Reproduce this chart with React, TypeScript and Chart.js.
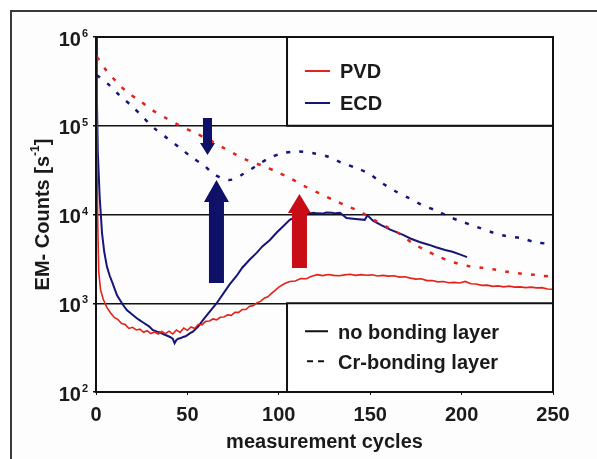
import React, { useEffect, useRef } from 'react';
import { Chart, registerables } from 'chart.js';

Chart.register(...registerables);

// ---------- data ----------
const xTicks = [0, 50, 100, 150, 200, 250];
const yTicks = [100, 1000, 10000, 100000, 1000000];
const yTickBase = '10';

// PVD, Cr-bonding layer (dashed red)
const pvdCrX = [0.5, 5, 11, 17, 24, 30.6, 38, 45, 53, 61, 69, 76, 83, 91, 99, 107, 114, 122, 130, 138, 145.5, 152, 160, 167, 173, 180, 188, 196, 203.5, 211, 218, 225, 232, 240, 248];
const pvdCrY = [596000, 437000, 316000, 240000, 190500, 151000, 123000, 102300, 85100, 70800, 57500, 47900, 40700, 35500, 30200, 25100, 20900, 17400, 14500, 12300, 10500, 8710, 7080, 5890, 4790, 3980, 3310, 2880, 2630, 2510, 2400, 2260, 2160, 2090, 2000];

// ECD, Cr-bonding layer (dashed navy)
const ecdCrX = [0.5, 7.7, 13, 19.7, 26, 32, 39, 46, 52, 58.5, 65, 69, 73, 77, 80, 84, 88.6, 95, 102, 110.5, 119, 127, 134.6, 143, 150, 156.5, 163.6, 170.7, 178, 186.5, 193.7, 200.8, 208.4, 216.6, 223.7, 232, 240, 247];
const ecdCrY = [371500, 281800, 218800, 166000, 123000, 93300, 72400, 56200, 44700, 36300, 28200, 25700, 24500, 25700, 28200, 31600, 36300, 43600, 49000, 51300, 49000, 44700, 38000, 33100, 28200, 22600, 18400, 15500, 12900, 11000, 9330, 8220, 7240, 6310, 5750, 5430, 4900, 4680];

// PVD, no bonding layer (solid red)
const pvdNoX = [0, 0.5, 1, 1.5, 2.5, 4, 6, 8, 10, 12, 14, 16, 18, 20, 22, 24, 26, 28, 30, 32, 34, 36, 38, 40, 42, 44, 46, 48, 50, 52, 54, 56, 58, 60, 62, 64, 66, 68, 70, 72, 74, 76, 78, 80, 82, 84, 86, 88, 90, 92, 94, 96, 98, 100, 103, 106, 109, 112, 115, 118, 121, 124, 127, 130, 133, 136, 139, 142, 145, 148, 151, 154, 157, 160, 163, 166, 169, 172, 175, 178, 181, 184, 187, 190, 193, 196, 199, 202, 205, 208, 211, 214, 217, 220, 223, 226, 229, 232, 235, 238, 241, 244, 247, 250];
const pvdNoY = [631000, 39800, 7080, 2240, 1410, 1100, 891, 776, 692, 655, 590, 575, 520, 535, 500, 510, 470, 490, 455, 475, 450, 480, 455, 485, 450, 500, 470, 525, 495, 540, 520, 580, 570, 625, 630, 665, 650, 695, 700, 740, 730, 790, 790, 850, 850, 925, 940, 1010, 1050, 1140, 1180, 1290, 1400, 1520, 1660, 1760, 1780, 1900, 1890, 2010, 2100, 2050, 2110, 2060, 2040, 2090, 2120, 2060, 2100, 2070, 2090, 2030, 2060, 2020, 2040, 1970, 1990, 1920, 1870, 1890, 1800, 1800, 1740, 1760, 1700, 1720, 1690, 1760, 1660, 1650, 1590, 1600, 1550, 1570, 1530, 1560, 1520, 1530, 1500, 1520, 1490, 1500, 1450, 1440];

// ECD, no bonding layer (solid navy)
const ecdNoX = [0, 0.5, 1, 2, 3.3, 4.5, 6, 7.5, 9, 11.5, 14.8, 17, 20, 23, 26, 29, 31, 33.4, 35, 37, 39, 40.5, 42, 43, 44, 45, 46.5, 47.6, 49, 50, 51.5, 53, 56, 58.5, 62, 66, 70, 73, 77, 80, 84, 88, 91, 95, 99, 102, 106, 110, 113, 115, 117, 119, 121, 124, 126, 129, 131, 133.5, 137, 142, 147, 148.5, 151.5, 156, 161, 168, 172, 177, 182, 186, 191, 195, 199, 203];
const ecdNoY = [1000000, 200000, 50000, 15800, 6170, 3800, 2570, 2040, 1700, 1230, 955, 832, 741, 661, 603, 550, 500, 479, 470, 447, 430, 417, 398, 355, 385, 398, 405, 417, 425, 437, 460, 479, 550, 646, 794, 1000, 1318, 1622, 2042, 2512, 3090, 3715, 4365, 5129, 6310, 7244, 8710, 9550, 9900, 10000, 10300, 10470, 10300, 10230, 10500, 10470, 10300, 10470, 9120, 8910, 8710, 9770, 8510, 7590, 6760, 5890, 5370, 4900, 4570, 4270, 3980, 3800, 3550, 3310];

// arrows: x (cycles), tail value, tip value
const arrowX = [61, 65.9, 111.3];
const arrowTail = [122000, 1690, 2500];
const arrowTip = [46800, 24500, 17000];

const seriesLabels = ['PVD', 'ECD'];
const layerLabels = ['no bonding layer', 'Cr-bonding layer'];
const yTitleParts = ['EM- Counts [s', '-1', ']'];
const xTitle = 'measurement cycles';

// legend boxes (data coordinates): left edge in cycles
const legendBoxLeft = 104.5;

// ---------- styles ----------
const RED = '#e3221b';
const NAVY = '#15157a';
const RED_ARROW = '#c90d16';
const NAVY_ARROW = '#0f1068';
const FONT = '"Liberation Sans", Arial, sans-serif';
const TEXT = '#1a1a1a';
const BIG = `bold 20px ${FONT}`;
const SMALL = `bold 11px ${FONT}`;

function pts(xs: number[], ys: number[]) {
  return xs.map((x, i) => ({ x, y: ys[i] }));
}

function drawArrow(ctx: CanvasRenderingContext2D, cx: number, yTail: number, yTip: number, shaftW: number, headW: number, headLen: number, color: string) {
  const dir = yTip < yTail ? -1 : 1;
  const yBase = yTip - dir * headLen;
  ctx.beginPath();
  ctx.moveTo(cx - shaftW / 2, yTail);
  ctx.lineTo(cx - shaftW / 2, yBase);
  ctx.lineTo(cx - headW / 2, yBase);
  ctx.lineTo(cx, yTip);
  ctx.lineTo(cx + headW / 2, yBase);
  ctx.lineTo(cx + shaftW / 2, yBase);
  ctx.lineTo(cx + shaftW / 2, yTail);
  ctx.closePath();
  ctx.fillStyle = color;
  ctx.fill();
}

const decorPlugin = {
  id: 'decor',
  beforeDraw(chart: any) {
    const ctx = chart.ctx as CanvasRenderingContext2D;
    ctx.save();
    ctx.fillStyle = '#ffffff';
    ctx.fillRect(0, 0, chart.width, chart.height);
    ctx.fillStyle = '#fdfdfd';
    ctx.fillRect(12, 12, chart.width, chart.height);
    ctx.strokeStyle = '#3a3a3a';
    ctx.lineWidth = 2;
    ctx.strokeRect(11, 11, chart.width + 20, chart.height + 20);
    ctx.restore();
  },
  beforeDatasetsDraw(chart: any) {
    const ctx = chart.ctx as CanvasRenderingContext2D;
    const xs = chart.scales.x;
    const ys = chart.scales.y;
    const l = xs.getPixelForValue(legendBoxLeft);
    const r = chart.chartArea.right;
    const boxes = [
      [ys.getPixelForValue(1e6), ys.getPixelForValue(1e5)],
      [ys.getPixelForValue(1e3), ys.getPixelForValue(1e2)],
    ];
    ctx.save();
    boxes.forEach(([t, b]) => {
      ctx.fillStyle = '#ffffff';
      ctx.fillRect(l, t, r - l, b - t);
      ctx.strokeStyle = '#111';
      ctx.lineWidth = 2;
      ctx.strokeRect(l, t, r - l, b - t);
    });
    ctx.font = BIG;
    ctx.textBaseline = 'middle';
    ctx.textAlign = 'left';
    const t1 = boxes[0][0];
    const rows1 = [t1 + 34, t1 + 66];
    const cols = [RED, NAVY];
    seriesLabels.forEach((lab, i) => {
      ctx.strokeStyle = cols[i];
      ctx.lineWidth = 2;
      ctx.setLineDash([]);
      ctx.beginPath();
      ctx.moveTo(l + 18, rows1[i]);
      ctx.lineTo(l + 43, rows1[i]);
      ctx.stroke();
      ctx.fillStyle = TEXT;
      ctx.fillText(lab, l + 53, rows1[i] + 1);
    });
    const t2 = boxes[1][0];
    const rows2 = [t2 + 28, t2 + 58];
    layerLabels.forEach((lab, i) => {
      ctx.strokeStyle = '#111';
      ctx.lineWidth = 2;
      ctx.beginPath();
      if (i === 0) {
        ctx.setLineDash([]);
        ctx.moveTo(l + 18, rows2[i]);
        ctx.lineTo(l + 41, rows2[i]);
      } else {
        ctx.setLineDash([6, 5]);
        ctx.moveTo(l + 20, rows2[i]);
        ctx.lineTo(l + 37, rows2[i]);
      }
      ctx.stroke();
      ctx.setLineDash([]);
      ctx.fillStyle = TEXT;
      ctx.fillText(lab, l + 51, rows2[i] + 2);
    });
    ctx.restore();
  },
  afterDatasetsDraw(chart: any) {
    const ctx = chart.ctx as CanvasRenderingContext2D;
    const xs = chart.scales.x;
    const ys = chart.scales.y;
    const a = chart.chartArea;
    ctx.save();
    const specs = [
      [9, 15, 12, NAVY_ARROW],
      [15, 25, 22, NAVY_ARROW],
      [15, 23, 19, RED_ARROW],
    ] as const;
    arrowX.forEach((ax, i) => {
      const [sw, hw, hl, col] = specs[i];
      drawArrow(ctx, xs.getPixelForValue(ax), ys.getPixelForValue(arrowTail[i]), ys.getPixelForValue(arrowTip[i]), sw, hw, hl, col);
    });
    // plot frame
    ctx.strokeStyle = '#111';
    ctx.lineWidth = 2;
    ctx.strokeRect(a.left, a.top, a.right - a.left, a.bottom - a.top);

    // y tick labels: 10 with superscript exponent
    ctx.fillStyle = TEXT;
    ctx.textBaseline = 'middle';
    ys.ticks.forEach((t: any) => {
      const y = ys.getPixelForValue(t.value);
      const exp = String(Math.round(Math.log10(t.value)));
      ctx.font = SMALL;
      const ew = ctx.measureText(exp).width;
      ctx.textAlign = 'left';
      const expX = a.left - 8 - ew;
      ctx.fillText(exp, expX, y - 3);
      ctx.font = BIG;
      ctx.textAlign = 'right';
      ctx.fillText(yTickBase, expX - 1, y + 3);
    });

    // y axis title with superscript
    ctx.save();
    ctx.translate(43, (a.top + a.bottom) / 2);
    ctx.rotate(-Math.PI / 2);
    ctx.textAlign = 'left';
    ctx.textBaseline = 'middle';
    const fonts = [BIG, `bold 12px ${FONT}`, BIG];
    const offs = [0, -7, 0];
    const widths = yTitleParts.map((p, i) => { ctx.font = fonts[i]; return ctx.measureText(p).width; });
    let x = -widths.reduce((s, w) => s + w, 0) / 2;
    yTitleParts.forEach((p, i) => {
      ctx.font = fonts[i];
      ctx.fillText(p, x, offs[i]);
      x += widths[i];
    });
    ctx.restore();
    ctx.restore();
  },
};

export default function App() {
  const ref = useRef<HTMLCanvasElement>(null);
  useEffect(() => {
    if (!ref.current) return;
    const chart = new Chart(ref.current, {
      type: 'line',
      data: {
        datasets: [
          { label: 'PVD Cr-bonding', data: pts(pvdCrX, pvdCrY), borderColor: RED, borderWidth: 2.5, borderDash: [4, 9], pointRadius: 0, tension: 0.3, fill: false },
          { label: 'ECD Cr-bonding', data: pts(ecdCrX, ecdCrY), borderColor: NAVY, borderWidth: 2.5, borderDash: [4, 9], pointRadius: 0, tension: 0.3, fill: false },
          { label: 'PVD no bonding', data: pts(pvdNoX, pvdNoY), borderColor: RED, borderWidth: 1.6, pointRadius: 0, tension: 0, fill: false },
          { label: 'ECD no bonding', data: pts(ecdNoX, ecdNoY), borderColor: NAVY, borderWidth: 2, pointRadius: 0, tension: 0, fill: false },
        ],
      },
      options: {
        responsive: false,
        animation: false,
        events: [],
        layout: { padding: { top: 37, right: 44, left: 0, bottom: 0 } },
        plugins: { legend: { display: false }, tooltip: { enabled: false } },
        scales: {
          x: {
            type: 'linear',
            min: 0,
            max: 250,
            afterBuildTicks: (s: any) => { s.ticks = xTicks.map((v) => ({ value: v })); },
            afterFit: (s: any) => { s.height = 67; },
            grid: { drawOnChartArea: false, drawTicks: true, tickLength: 3, color: '#111', lineWidth: 1 },
            border: { display: true, color: '#111', width: 2 },
            ticks: { color: TEXT, font: { family: FONT, size: 20, weight: 'bold' }, padding: 8, maxRotation: 0 },
            title: { display: true, text: xTitle, color: TEXT, font: { family: FONT, size: 20, weight: 'bold' }, padding: { top: 0, bottom: 5 } },
          },
          y: {
            type: 'logarithmic',
            min: 100,
            max: 1000000,
            afterBuildTicks: (s: any) => { s.ticks = yTicks.map((v) => ({ value: v })); },
            afterFit: (s: any) => { s.width = 96; },
            grid: { drawOnChartArea: true, drawTicks: true, tickLength: 3, color: '#111', lineWidth: 1.5 },
            border: { display: true, color: '#111', width: 2 },
            ticks: { display: false },
            title: { display: false },
          },
        },
      },
      plugins: [decorPlugin],
    } as any);
    return () => chart.destroy();
  }, []);
  return (
    <div style={{ position: 'fixed', left: 0, top: 0, width: 597, height: 459 }}>
      <canvas ref={ref} width={597} height={459} style={{ display: 'block' }} />
    </div>
  );
}
